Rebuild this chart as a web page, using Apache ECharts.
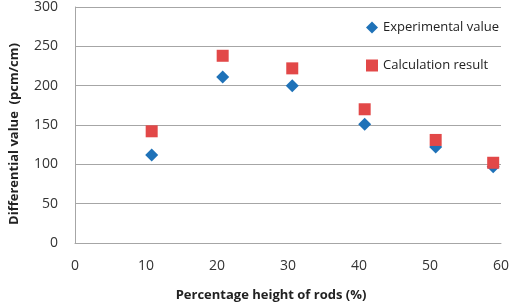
<!DOCTYPE html>
<html><head><meta charset="utf-8">
<script src="https://cdn.jsdelivr.net/npm/echarts@6/dist/echarts.min.js"></script>
<style>html,body{margin:0;padding:0;background:#fff}#c{width:512px;height:307px}</style>
</head><body><div id="c"></div>
<script>
const xExp = [10.8, 20.8, 30.6, 40.8, 50.8, 58.9];
const yExp = [112, 211, 200, 151, 122, 97];
const xCalc = [10.8, 20.8, 30.6, 40.8, 50.8, 58.9];
const yCalc = [142, 238, 222, 170, 131, 102];
const seriesNames = ['Experimental value', 'Calculation result'];
const xTicks = [0, 10, 20, 30, 40, 50, 60];
const yTicks = [0, 50, 100, 150, 200, 250, 300];

const font = 'Open Sans, Liberation Sans, sans-serif';
const chart = echarts.init(document.getElementById('c'), null, {renderer: 'canvas'});
chart.setOption({
  animation: false,
  grid: {left: 74, right: 9, top: 6, bottom: 63},
  legend: {
    orient: 'vertical', left: 361, top: 16, itemGap: 25, itemWidth: 12, itemHeight: 12,
    textStyle: {fontFamily: font, fontSize: 13, color: '#222'},
    data: [{name: seriesNames[0], icon: 'diamond'}, {name: seriesNames[1], icon: 'rect'}]
  },
  xAxis: {
    type: 'value', min: xTicks[0], max: xTicks[xTicks.length - 1], interval: 10,
    name: 'Percentage height of rods (%)', nameLocation: 'middle', nameGap: 46,
    nameTextStyle: {fontFamily: font, fontSize: 13, fontWeight: 'bold', color: '#222', padding: [0, 34, 0, 0]},
    axisLine: {show: true, lineStyle: {color: '#a6a6a6'}},
    axisTick: {show: false},
    splitLine: {show: false},
    axisLabel: {fontFamily: font, fontSize: 14, color: '#333', margin: 16}
  },
  yAxis: {
    type: 'value', min: yTicks[0], max: yTicks[yTicks.length - 1], interval: 50,
    name: 'Differential value  (pcm/cm)', nameLocation: 'middle', nameGap: 54,
    nameTextStyle: {fontFamily: font, fontSize: 13, fontWeight: 'bold', color: '#222', padding: [0, 18, 0, 0]},
    axisLine: {show: true, lineStyle: {color: '#a6a6a6'}},
    axisTick: {show: false},
    splitLine: {show: true, lineStyle: {color: '#a6a6a6'}},
    axisLabel: {fontFamily: font, fontSize: 14, color: '#333', margin: 17}
  },
  series: [
    {name: seriesNames[0], type: 'scatter', symbol: 'diamond', symbolSize: 13,
     itemStyle: {color: '#1f72b8', opacity: 1}, z: 2,
     data: xExp.map((x, i) => [x, yExp[i]])},
    {name: seriesNames[1], type: 'scatter', symbol: 'rect', symbolSize: 12,
     itemStyle: {color: '#e24848', opacity: 1}, z: 3,
     data: xCalc.map((x, i) => [x, yCalc[i]])}
  ]
});
</script></body></html>
